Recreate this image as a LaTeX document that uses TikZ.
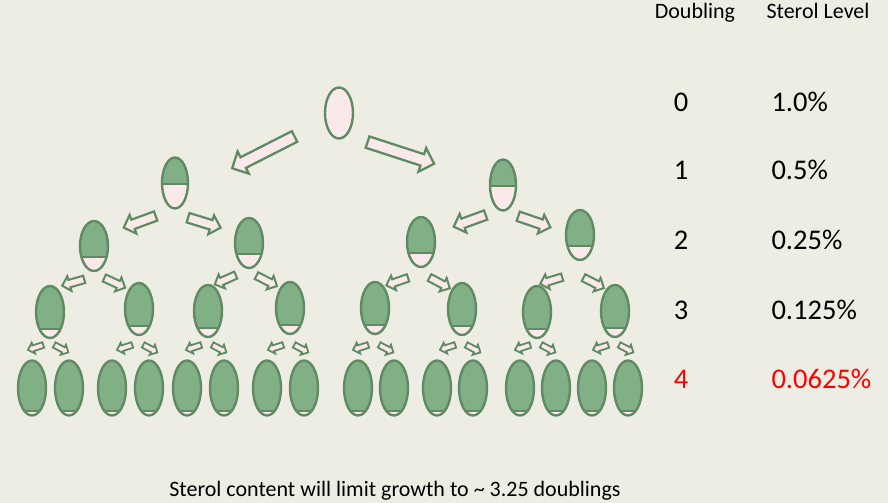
\documentclass[tikz,border=0pt]{standalone}
\usepackage{fontspec}
\setmainfont{Carlito}
\usetikzlibrary{shapes.geometric, shapes.arrows, calc}
\definecolor{slide}{RGB}{238,237,227}
\definecolor{cellgreen}{RGB}{130,176,134}
\definecolor{cellline}{RGB}{96,138,100}
\definecolor{cellpink}{RGB}{250,233,233}
\begin{document}
\begin{tikzpicture}[x=1pt, y=-1pt,
  cell/.style={ellipse, draw=cellline, line width=2.4pt, fill=cellpink, minimum width=27pt, minimum height=51pt, inner sep=0pt},
  grown/.style={path picture={
    \fill[cellgreen] (path picture bounding box.north west) rectangle ($(path picture bounding box.north east)!#1!(path picture bounding box.south east)$);
    \draw[cellline, line width=2pt] ($(path picture bounding box.north west)!#1!(path picture bounding box.south west)$) -- ($(path picture bounding box.north east)!#1!(path picture bounding box.south east)$);}},
  arr/.style={single arrow, draw=cellline, fill=cellpink, inner xsep=0pt, line width=#1},
  arr0/.style={arr=2.3pt, minimum height=70pt, inner ysep=4.8pt, single arrow head extend=6.5pt},
  arr1/.style={arr=2.2pt, minimum height=34pt, inner ysep=3.8pt, single arrow head extend=5pt},
  arr2/.style={arr=2pt, minimum height=23pt, inner ysep=2.8pt, single arrow head extend=3.8pt},
  arr3/.style={arr=1.8pt, minimum height=16pt, inner ysep=2pt, single arrow head extend=2.8pt},
  head/.style={font=\fontsize{22}{26}\selectfont, anchor=base},
  num/.style={font=\fontsize{28.5}{34}\selectfont, anchor=base}]

  \fill[slide] (0,0) rectangle (888,503);
  \useasboundingbox (0,0) rectangle (895,503);

  \node [cell, minimum width=28pt] (c) at (339,113) {};

  \node [cell, grown=0.52, minimum width=26pt] (c1) at (175,183) {};
  \node [cell, grown=0.52, minimum width=26pt] (c2) at (503,185) {};

  \node [cell, grown=0.72, minimum width=28pt, minimum height=50pt] (c11) at (94,246) {};
  \node [cell, grown=0.72, minimum width=28pt, minimum height=50pt] (c12) at (249,243) {};
  \node [cell, grown=0.72, minimum width=28pt, minimum height=50pt] (c21) at (421,242) {};
  \node [cell, grown=0.72, minimum width=28pt, minimum height=50pt] (c22) at (580,235) {};

  \foreach \n/\x/\y in {c111/50/312, c112/139/309, c121/208/311, c122/290/308, c211/375/308, c212/462/309, c221/537/312, c222/615/311}
    \node [cell, grown=0.83, minimum width=28pt, minimum height=52pt] (\n) at (\x,\y) {};

  \foreach \x [count=\i] in {32,69,112,149,187,224,267,304,358,394,437,473,520,556,592,628}
    \node [cell, grown=0.91, minimum width=28pt, minimum height=55pt] (d\i) at (\x,388) {};

  \node [arr0, rotate=207] (s) at (266,151) {};
  \node [arr0, rotate=-18] (t) at (398,152) {};

  \foreach \x/\y/\a in {142/221/200, 202/222/-17, 472/220/200, 532/221/-19}
    \node [arr1, rotate=\a] at (\x,\y) {};

  \foreach \x/\y/\a in {75/282/196, 113/282/-25, 227/279/204, 265/280/-27, 399/281/199, 438/282/-28, 553/280/197, 592/282/-27}
    \node [arr2, rotate=\a] at (\x,\y) {};

  \foreach \x in {50,139,208,290,375,462,537,615} {
    \node [arr3, rotate=198] at (\x-13,347) {};
    \node [arr3, rotate=-28] at (\x+10,348) {};
  }

  \node [head] (dbl) at (695,19) {Doubling};
  \node [head] (lvl) at (818,19) {Sterol Level};

  \node [num] (n0) at (681,112) {0};
  \node [num] (n1) at (681,179) {1};
  \node [num] (n2) at (681,249) {2};
  \node [num] (n3) at (681,319) {3};
  \node [num, red] (n4) at (681,388) {4};
  \node [num, anchor=base west] (p0) at (768,112) {1.0\%};
  \node [num, anchor=base west] (p1) at (768,179) {0.5\%};
  \node [num, anchor=base west] (p2) at (768,249) {0.25\%};
  \node [num, anchor=base west] (p3) at (768,319) {0.125\%};
  \node [num, anchor=base west, red] (p4) at (768,388) {0.0625\%};

  \node [head] (note) at (395,496) {Sterol content will limit growth to \textasciitilde{} 3.25 doublings};
\end{tikzpicture}
\end{document}
